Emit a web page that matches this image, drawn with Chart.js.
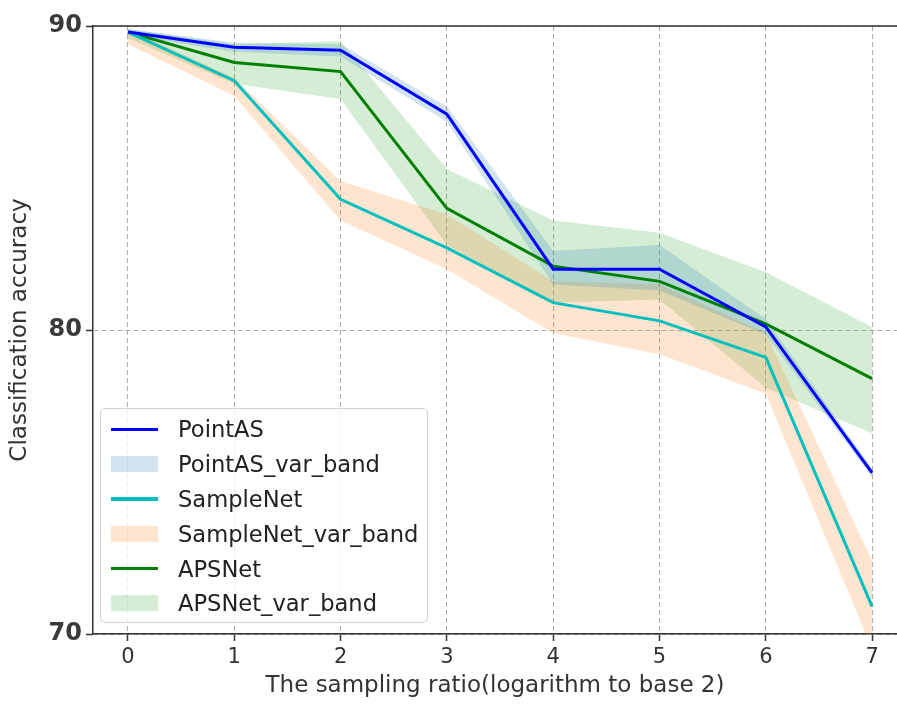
<!DOCTYPE html>
<html lang="en">
<head>
  <meta charset="UTF-8">
  <title>Classification accuracy</title>
  <script src="https://cdn.jsdelivr.net/npm/chart.js"></script>
  <style>
    body { margin: 0; background: #fff; font-family: "DejaVu Sans", sans-serif; }
    #wrap { position: relative; width: 897px; height: 704px; }
    #legend {
      position: absolute; left: 100px; top: 408px; width: 328px; height: 215px;
      box-sizing: border-box; border: 1px solid #d0d0d0; border-radius: 5px;
      background: rgba(255,255,255,0.8); padding: 3px 0 0 10px;
    }
    .item { display: flex; align-items: center; height: 34.8px; font-size: 22.6px; color: #222; }
    .sw { width: 47px; margin-right: 20px; }
  </style>
  <script>
    const ratios = [0, 1, 2, 3, 4, 5, 6, 7];
    const xTicks = [0, 1, 2, 3, 4, 5, 6, 7];
    const yTicks = [70, 80, 90];

    const pointAS = [89.8, 89.3, 89.2, 87.1, 82.0, 82.0, 80.1, 75.3];
    const pointASHigh = [89.9, 89.45, 89.4, 87.35, 82.6, 82.8, 80.35, 75.45];
    const pointASLow = [89.7, 89.15, 89.0, 86.85, 81.5, 81.3, 79.85, 75.15];

    const sampleNet = [89.8, 88.2, 84.3, 82.7, 80.9, 80.3, 79.1, 70.9];
    const sampleNetHigh = [89.9, 88.3, 84.9, 83.8, 81.6, 81.5, 79.9, 72.4];
    const sampleNetLow = [89.4, 87.7, 83.6, 82.0, 79.9, 79.2, 77.9, 69.5];

    const apsNet = [89.8, 88.8, 88.5, 84.0, 82.1, 81.6, 80.2, 78.4];
    const apsNetHigh = [89.9, 89.4, 89.5, 85.3, 83.6, 83.2, 81.9, 80.1];
    const apsNetLow = [89.6, 88.1, 87.6, 82.8, 80.9, 81.0, 78.1, 76.6];

    const pts = arr => arr.map((v, i) => ({ x: ratios[i], y: v }));

    function line(label, data, color) {
      return { label, data: pts(data), borderColor: color, borderWidth: 3, pointRadius: 0, fill: false, tension: 0, order: 0 };
    }
    function band(label, hi, lo, color) {
      return [
        { label, data: pts(hi), borderWidth: 0, borderColor: 'transparent', pointRadius: 0, fill: '+1', backgroundColor: color, order: 1 },
        { label: label + '_low', data: pts(lo), borderWidth: 0, borderColor: 'transparent', pointRadius: 0, fill: false, order: 1 }
      ];
    }

    const legendItems = [
      { label: 'PointAS', color: '#0000ff', line: true },
      { label: 'PointAS_var_band', color: 'rgba(31,119,180,0.2)' },
      { label: 'SampleNet', color: '#00bfbf', line: true },
      { label: 'SampleNet_var_band', color: 'rgba(255,127,14,0.2)' },
      { label: 'APSNet', color: '#008000', line: true },
      { label: 'APSNet_var_band', color: 'rgba(44,160,44,0.2)' }
    ];

    const frame = {
      id: 'frame',
      afterDraw(chart) {
        const { ctx, chartArea: a } = chart;
        ctx.save();
        ctx.strokeStyle = '#333';
        ctx.lineWidth = 1.5;
        ctx.beginPath();
        ctx.moveTo(a.left, a.top);
        ctx.lineTo(a.right, a.top);
        ctx.stroke();
        ctx.restore();
      }
    };

    document.addEventListener("DOMContentLoaded", () => {
      const gridColor = 'rgba(150,150,150,0.8)';
      new Chart(document.getElementById("chart"), {
        type: 'line',
        data: {
          datasets: [
            line('PointAS', pointAS, '#0000ff'),
            ...band('PointAS_var_band', pointASHigh, pointASLow, 'rgba(31,119,180,0.2)'),
            line('SampleNet', sampleNet, '#00bfbf'),
            ...band('SampleNet_var_band', sampleNetHigh, sampleNetLow, 'rgba(255,127,14,0.2)'),
            line('APSNet', apsNet, '#008000'),
            ...band('APSNet_var_band', apsNetHigh, apsNetLow, 'rgba(44,160,44,0.2)')
          ]
        },
        options: {
          responsive: false,
          animation: false,
          layout: { padding: { top: 26, right: 0, left: 0, bottom: 0 } },
          plugins: { legend: { display: false }, tooltip: { enabled: false } },
          scales: {
            x: {
              type: 'linear', min: -0.329, max: 7.234,
              afterBuildTicks: axis => { axis.ticks = xTicks.map(v => ({ value: v })); },
              afterFit: axis => { axis.height = 70; },
              grid: { color: gridColor, tickColor: '#333', tickLength: 7, tickWidth: 1.5, tickBorderDash: [] },
              border: { color: '#333', width: 1.5, dash: [5, 3] },
              ticks: { color: '#333', font: { family: 'DejaVu Sans', size: 21 }, padding: 4 },
              title: { display: true, text: 'The sampling ratio(logarithm to base 2)', color: '#333', font: { family: 'DejaVu Sans', size: 23 }, padding: { top: 0 } }
            },
            y: {
              min: 70, max: 90,
              afterBuildTicks: axis => { axis.ticks = yTicks.map(v => ({ value: v })); },
              afterFit: axis => { axis.width = 93; },
              grid: { color: gridColor, tickColor: '#333', tickLength: 7, tickWidth: 1.5, tickBorderDash: [] },
              border: { color: '#333', width: 1.5, dash: [5, 3] },
              ticks: { color: '#3a3a3a', font: { family: 'DejaVu Sans', size: 24, weight: 'bold' }, padding: 4 },
              title: { display: true, text: 'Classification accuracy', color: '#333', font: { family: 'DejaVu Sans', size: 23 }, padding: { top: 6, bottom: 0 } }
            }
          }
        },
        plugins: [frame]
      });

      document.getElementById("legend").innerHTML = legendItems.map(it => {
        const sw = it.line
          ? `<span class="sw" style="height:3.5px;background:${it.color}"></span>`
          : `<span class="sw" style="height:16px;background:${it.color}"></span>`;
        return `<div class="item">${sw}<span>${it.label}</span></div>`;
      }).join("");
    });
  </script>
</head>
<body>
  <div id="wrap">
    <canvas id="chart" width="897" height="704"></canvas>
    <div id="legend"></div>
  </div>
</body>
</html>
